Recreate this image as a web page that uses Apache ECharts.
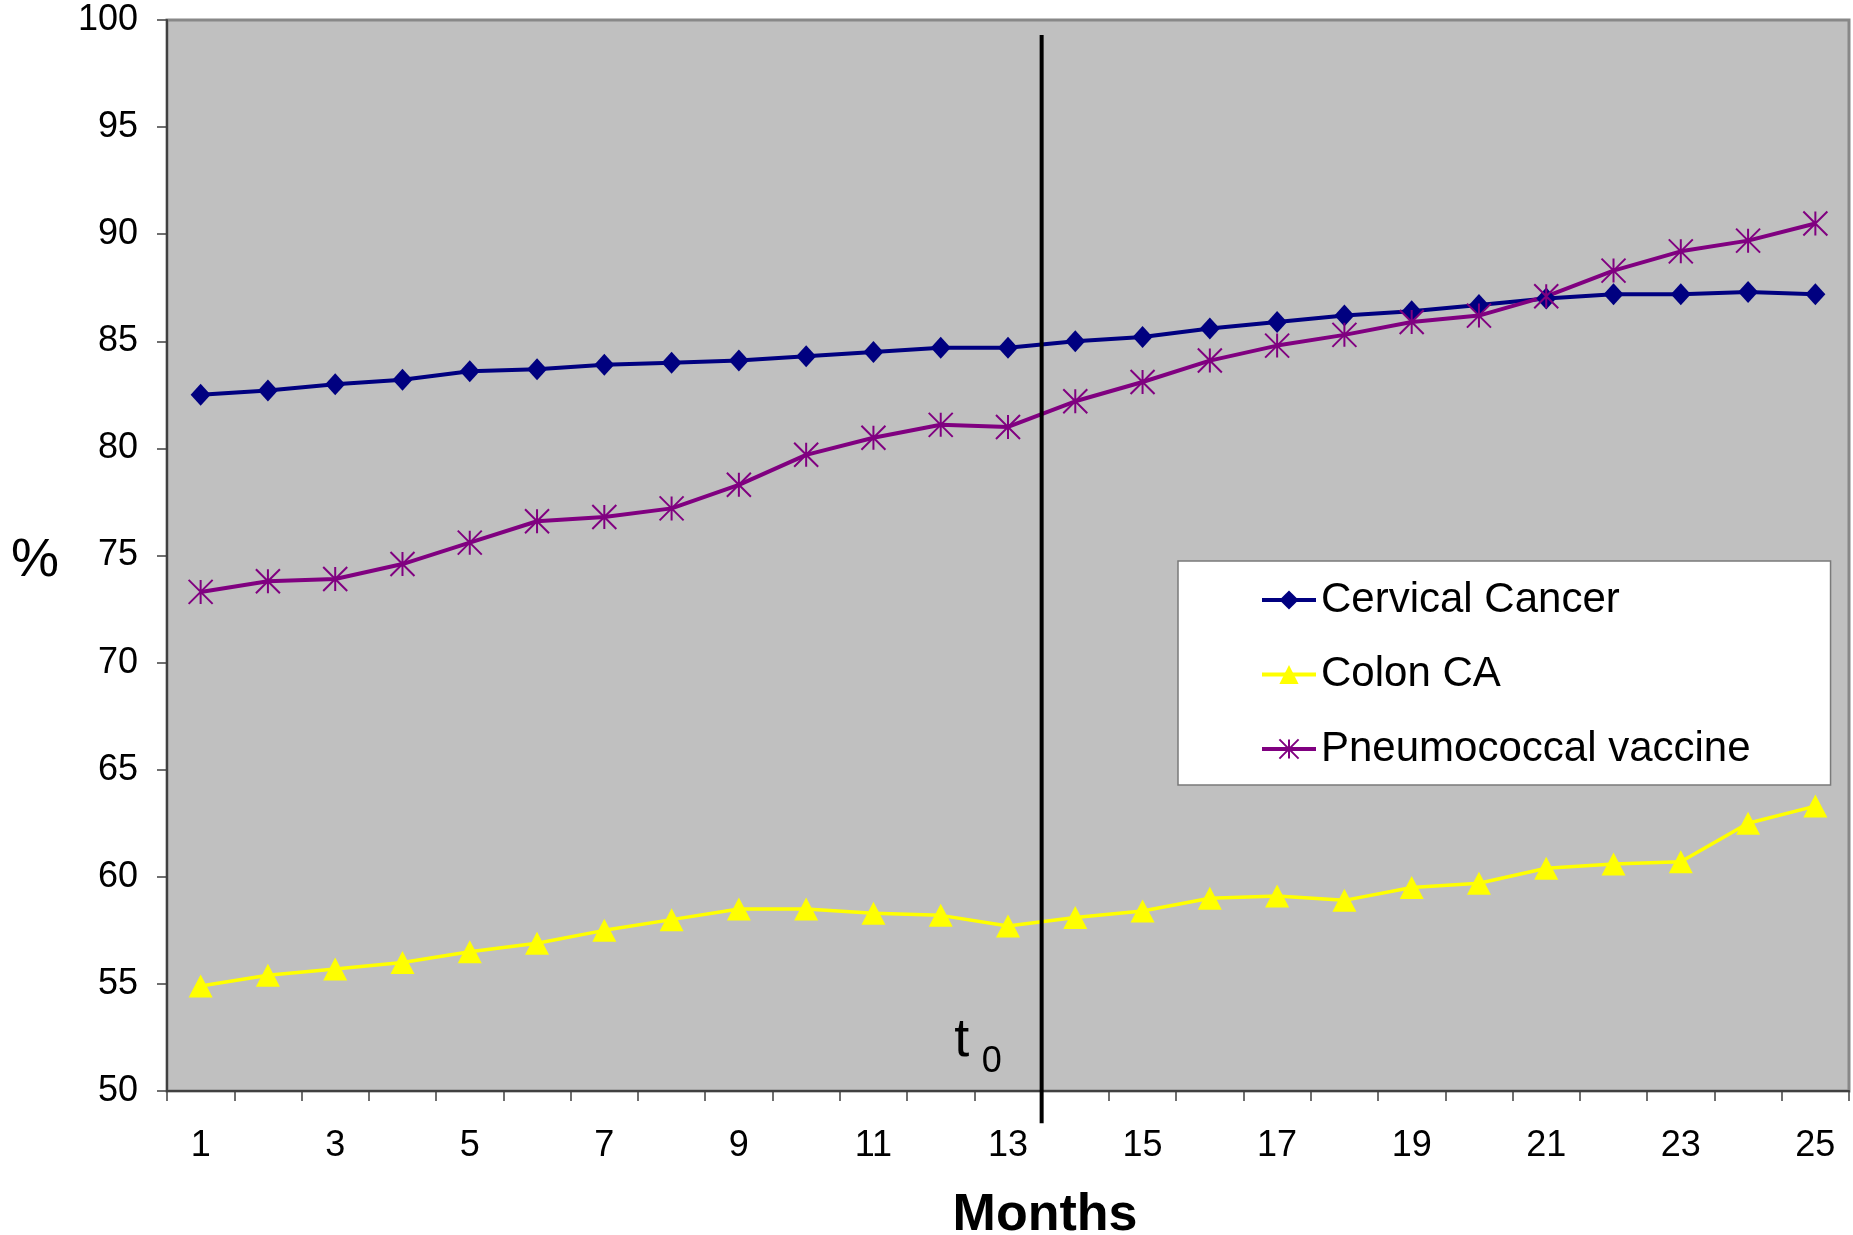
<!DOCTYPE html>
<html>
<head>
<meta charset="utf-8">
<style>
  html, body { margin: 0; padding: 0; background: #ffffff; }
  #chart { width: 1853px; height: 1235px; }
</style>
<script src="https://cdn.jsdelivr.net/npm/echarts@6/dist/echarts.min.js"></script>
</head>
<body>
<div id="chart"></div>
<script>
// Screening / vaccination rates by month, with the intervention point t0
const months = ['1','2','3','4','5','6','7','8','9','10','11','12','13',
                '14','15','16','17','18','19','20','21','22','23','24','25'];

const cervicalCancer = [82.5, 82.7, 83.0, 83.2, 83.6, 83.7, 83.9, 84.0, 84.1, 84.3,
                        84.5, 84.7, 84.7, 85.0, 85.2, 85.6, 85.9, 86.2, 86.4, 86.7,
                        87.0, 87.2, 87.2, 87.3, 87.2];

const colonCA = [54.9, 55.4, 55.7, 56.0, 56.5, 56.9, 57.5, 58.0, 58.5, 58.5,
                 58.3, 58.2, 57.7, 58.1, 58.4, 59.0, 59.1, 58.9, 59.5, 59.7,
                 60.4, 60.6, 60.7, 62.5, 63.3];

const pneumococcalVaccine = [73.3, 73.8, 73.9, 74.6, 75.6, 76.6, 76.8, 77.2, 78.3, 79.7,
                             80.5, 81.1, 81.0, 82.2, 83.1, 84.1, 84.8, 85.3, 85.9, 86.2,
                             87.1, 88.3, 89.2, 89.7, 90.5];

const seriesNames = ['Cervical Cancer', 'Colon CA', 'Pneumococcal vaccine'];

// value axis range and step
const yMin = 50, yMax = 100, yStep = 5;

// t0: the intervention falls between month 13 and month 14
const t0Month = 13.5;
const t0Span = [99.3, 48.5];

const FONT = '"Liberation Sans", Arial, sans-serif';
const chart = echarts.init(document.getElementById('chart'), null, { renderer: 'canvas' });

// six-armed asterisk marker (X plus vertical stroke)
const asterisk = 'path://M0,0L20,20M20,0L0,20M10,0L10,20';

chart.setOption({
  animation: false,
  backgroundColor: '#ffffff',
  textStyle: { fontFamily: FONT },
  grid: {
    left: 167, right: 4, top: 20, bottom: 144,
    show: true,
    backgroundColor: '#c0c0c0',
    borderColor: '#888888',
    borderWidth: 3
  },
  legend: {
    data: seriesNames,
    orient: 'vertical',
    left: 1178, top: 561,
    padding: [18, 80, 15, 82],
    itemGap: 32.5,
    itemWidth: 54,
    itemHeight: 24,
    backgroundColor: '#ffffff',
    borderColor: '#7a7a7a',
    borderWidth: 1.5,
    selectedMode: false,
    lineStyle: { width: 4 },
    textStyle: { fontSize: 42, color: '#000000', fontFamily: FONT }
  },
  xAxis: [{
    type: 'category',
    data: months,
    boundaryGap: true,
    axisLine: { lineStyle: { color: '#404040', width: 2 } },
    axisTick: { show: true, interval: 0, length: 10, inside: false,
                lineStyle: { color: '#404040', width: 1.5 } },
    axisLabel: { interval: 1, margin: 37, fontSize: 36, color: '#000000', fontFamily: FONT },
    splitLine: { show: false }
  }, {
    type: 'value',
    min: 0.5, max: 25.5,
    show: false
  }],
  yAxis: {
    type: 'value',
    min: yMin, max: yMax, interval: yStep,
    axisLine: { show: true, lineStyle: { color: '#404040', width: 2 } },
    axisTick: { show: true, length: 10, inside: false,
                lineStyle: { color: '#404040', width: 1.5 } },
    axisLabel: { margin: 29, fontSize: 36, color: '#000000', fontFamily: FONT },
    splitLine: { show: false }
  },
  series: [{
    name: seriesNames[0],
    type: 'line',
    data: cervicalCancer,
    color: '#000080',
    symbol: 'diamond',
    symbolSize: [20, 22],
    showAllSymbol: true,
    lineStyle: { color: '#000080', width: 4 },
    itemStyle: { color: '#000080' }
  }, {
    name: seriesNames[1],
    type: 'line',
    data: colonCA,
    color: '#ffff00',
    symbol: 'triangle',
    symbolSize: [24, 23],
    showAllSymbol: true,
    lineStyle: { color: '#ffff00', width: 3.5 },
    itemStyle: { color: '#ffff00' }
  }, {
    name: seriesNames[2],
    type: 'line',
    data: pneumococcalVaccine,
    color: '#800080',
    symbol: asterisk,
    symbolSize: [24, 24],
    showAllSymbol: true,
    lineStyle: { color: '#800080', width: 4 },
    itemStyle: { color: '#800080', borderColor: '#800080', borderWidth: 2 }
  }, {
    name: 't0',
    type: 'line',
    xAxisIndex: 1,
    data: [[t0Month, t0Span[0]], [t0Month, t0Span[1]]],
    clip: false,
    silent: true,
    symbol: 'none',
    lineStyle: { color: '#000000', width: 4 },
    z: 5
  }]
});

// annotation text placed relative to the t0 line and the plot
const base = chart.convertToPixel({ xAxisIndex: 1, yAxisIndex: 0 }, [t0Month, yMin]);
chart.setOption({
  graphic: [{
    type: 'text',
    style: { text: 't', x: base[0] - 80, y: base[1] - 50, align: 'center', verticalAlign: 'middle',
             fontSize: 54, fontFamily: FONT, fill: '#000000' }
  }, {
    type: 'text',
    style: { text: '0', x: base[0] - 50, y: base[1] - 29, align: 'center', verticalAlign: 'middle',
             fontSize: 36, fontFamily: FONT, fill: '#000000' }
  }, {
    type: 'text',
    style: { text: 'Months', x: 1045, y: 1216, align: 'center', verticalAlign: 'middle',
             fontSize: 52, fontWeight: 'bold', fontFamily: FONT, fill: '#000000' }
  }, {
    type: 'text',
    style: { text: '%', x: 35, y: 561, align: 'center', verticalAlign: 'middle',
             fontSize: 54, fontFamily: FONT, fill: '#000000' }
  }]
});
</script>
</body>
</html>
